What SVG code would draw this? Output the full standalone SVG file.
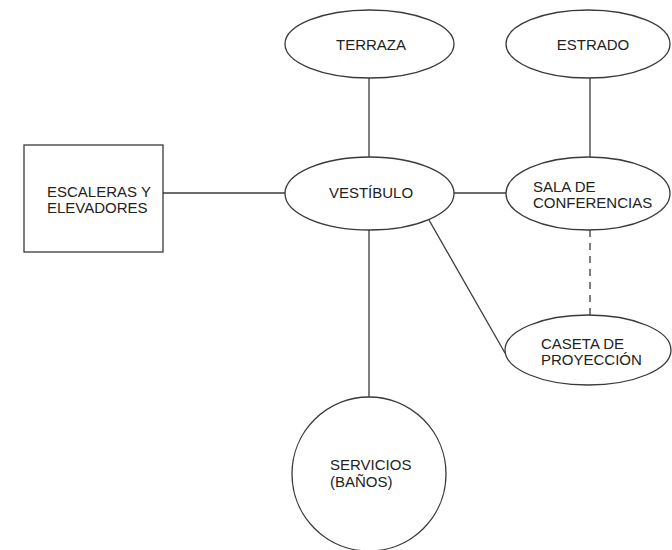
<svg xmlns="http://www.w3.org/2000/svg" width="672" height="550" viewBox="0 0 672 550">
<style>
.s{fill:#fff;stroke:#3a3a3a;stroke-width:1.3}
.c{fill:none;stroke:#3a3a3a;stroke-width:1.3}
.d{stroke-dasharray:7 6}
text{font-family:"Liberation Sans",Arial,sans-serif;font-size:15px;fill:#222}
.m{text-anchor:middle}
</style>
<rect width="672" height="550" fill="#fff"/>
<g id="connectors">
<line class="c" x1="163" y1="193" x2="285" y2="193"/>
<line class="c" x1="369" y1="78" x2="369" y2="157"/>
<line class="c" x1="454" y1="193" x2="506" y2="193"/>
<line class="c" x1="590" y1="78" x2="590" y2="157"/>
<line class="c d" x1="590" y1="230" x2="590" y2="315"/>
<line class="c" x1="429" y1="220" x2="505" y2="353"/>
<line class="c" x1="369" y1="230" x2="369" y2="398"/>
</g>
<g id="escaleras">
<rect class="s" x="24" y="145" width="139" height="107"/>
<text x="47" y="197">ESCALERAS Y</text>
<text x="47" y="213">ELEVADORES</text>
</g>
<g id="terraza">
<ellipse class="s" cx="369.5" cy="44" rx="84.5" ry="34"/>
<text class="m" x="371" y="50">TERRAZA</text>
</g>
<g id="estrado">
<ellipse class="s" cx="588" cy="44" rx="82" ry="34"/>
<text class="m" x="593" y="50">ESTRADO</text>
</g>
<g id="vestibulo">
<ellipse class="s" cx="369.5" cy="193.5" rx="84.5" ry="36.5"/>
<text class="m" x="371" y="198">VESTÍBULO</text>
</g>
<g id="sala">
<ellipse class="s" cx="588" cy="193.5" rx="82" ry="36.5"/>
<text x="533" y="192">SALA DE</text>
<text x="533" y="208">CONFERENCIAS</text>
</g>
<g id="caseta">
<ellipse class="s" cx="588" cy="350" rx="83" ry="35"/>
<text x="541" y="349">CASETA DE</text>
<text x="541" y="365">PROYECCIÓN</text>
</g>
<g id="servicios">
<circle class="s" cx="369" cy="474" r="77"/>
<text x="330" y="470">SERVICIOS</text>
<text x="330" y="487">(BAÑOS)</text>
</g>
</svg>
